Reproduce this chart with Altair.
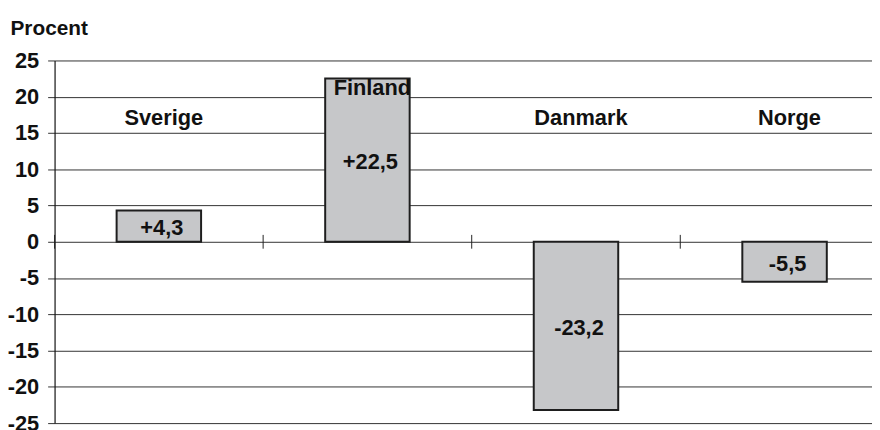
import altair as alt
import pandas as pd

countries = ["Sverige", "Finland", "Danmark", "Norge"]
values = [4.3, 22.5, -23.2, -5.5]
y_ticks = [25, 20, 15, 10, 5, 0, -5, -10, -15, -20, -25]

df = pd.DataFrame({"land": countries, "procent": values})
FONT = "Liberation Sans"
FS = 22

base = alt.Chart(df)
xscale = alt.Scale(range=[0, 842], paddingInner=0, paddingOuter=0)
yscale = alt.Scale(domain=[-25, 25], nice=False)

yaxis = alt.Axis(
    values=y_ticks, tickCount=len(y_ticks), grid=True, gridColor="#333333", gridWidth=1,
    domain=True, domainColor="#111111", domainWidth=1.2,
    ticks=True, tickSize=7, tickColor="#333333",
    labelExpr="replace(format(datum.value, 'd'), '\u2212', '-')",
    labelFont=FONT, labelFontSize=FS, labelFontWeight="bold", labelColor="#111111",
    labelPadding=9, labelFlush=False, labelOverlap=False,
    title="Procent", titleAngle=0, titleAlign="left", titleBaseline="alphabetic",
    titleX=-45, titleY=-26, titleFont=FONT, titleFontSize=21,
    titleFontWeight="bold", titleColor="#111111",
)

bars = base.mark_bar(
    width=alt.RelativeBandSize(0.405), fill="#c6c7c9", stroke="#1e1e1e", strokeWidth=2
).encode(
    x=alt.X("land:N", sort=countries, scale=xscale, axis=None),
    y=alt.Y("procent:Q", scale=yscale, axis=yaxis),
)

ticks = base.mark_rule(color="#222222", strokeWidth=1).encode(
    x=alt.X("land:N", sort=countries, bandPosition=0),
    y=alt.datum(-0.95),
    y2=alt.datum(0.95),
)

names = base.transform_calculate(
    ly="datum.procent > 20 ? 21.2 : 17.1"
).mark_text(
    font=FONT, fontSize=FS, fontWeight="bold", color="#111111", dx=5
).encode(
    x=alt.X("land:N", sort=countries),
    y=alt.Y("ly:Q"),
    text="land:N",
)

labels = base.transform_calculate(
    mid="datum.procent / 2",
    lbl="(datum.procent > 0 ? '+' : '-') + replace(format(abs(datum.procent), '.1f'), '.', ',')",
).mark_text(
    font=FONT, fontSize=FS, fontWeight="bold", color="#111111", dx=3, dy=2
).encode(
    x=alt.X("land:N", sort=countries),
    y=alt.Y("mid:Q"),
    text="lbl:N",
)

chart = alt.layer(bars, ticks, names, labels).properties(
    width=825,
    height=366,
    autosize=alt.AutoSizeParams(type="none"),
    padding={"left": 47, "top": 51, "right": 0, "bottom": 5},
).configure_view(stroke=None)

chart.save("out.html", embed_options={"renderer": "svg", "actions": False})
